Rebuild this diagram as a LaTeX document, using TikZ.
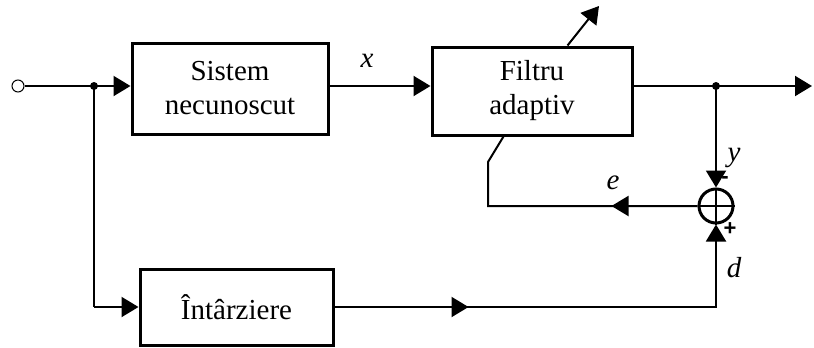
\documentclass[tikz,border=0pt]{standalone}
\usepackage{fontspec}
\setmainfont{Liberation Serif}
\setsansfont{Liberation Sans}
\usetikzlibrary{arrows.meta,decorations.markings,calc}

\begin{document}
\begin{tikzpicture}[x=1pt,y=-1pt,
  blk/.style={draw,line width=3pt,align=center,inner sep=0pt,
    font=\fontsize{29}{34}\selectfont},
  wire/.style={line width=2pt},
  tip/.style={-{Triangle[length=17pt,width=20pt]}},
  midtip/.style={postaction={decorate},decoration={markings,
    mark=at position #1 with {\arrow{Triangle[length=17pt,width=20pt]}}}},
  lbl/.style={inner sep=0pt,font=\fontsize{29}{34}\selectfont\itshape},
  sgn/.style={inner sep=0pt,font=\fontsize{22}{24}\sffamily\bfseries},
  jdot/.style={circle,fill,inner sep=0pt,minimum size=8pt}]
\useasboundingbox (0,0) rectangle (814,348);

% blocks
\node[blk,minimum width=196pt,minimum height=91pt] (sys) at (230,88.5) {Sistem\\necunoscut};
\node[blk,minimum width=200pt,minimum height=88pt] (flt) at (532,91) {Filtru\\adaptiv};
\node[blk,minimum width=193pt,minimum height=76pt] (dly) at (236.5,307) {Întârziere};

% summing junction
\node[circle,draw,line width=3pt,minimum size=34pt,inner sep=0pt] (sum) at (716,206) {};
\draw[line width=2.5pt] (sum.north) -- (sum.south) (sum.west) -- (sum.east);

% input terminal and branch points
\node[circle,draw,line width=1pt,minimum size=12pt,inner sep=0pt] (in) at (18,86) {};
\coordinate (j1) at (94,86);
\coordinate (j2) at (716,86);
\coordinate (out) at (812,86);
\node[jdot] at (j1) {};
\node[jdot] at (j2) {};

% forward path
\draw[wire] (in) -- (j1);
\draw[wire,tip] (j1) -- (j1 -| sys.west);
\draw[wire,tip] (sys.east |- j1) -- (flt.west |- j1);
\draw[wire,tip] (flt.east |- j2) -- (out);
\draw[wire,tip] (j2) -- (sum.north);

% delayed reference path
\coordinate (c1) at (94,307);
\coordinate (c2) at (716,307);
\draw[wire] (j1) -- (c1);
\draw[wire,tip] (c1) -- (dly.west |- c1);
\draw[wire,tip,midtip=134pt] (dly.east |- c2) -- (c2) -- (sum.south);

% error feedback to the adaptive filter
\coordinate (f1) at (488,206);
\coordinate (f2) at (488,162);
\draw[wire,midtip=86pt] (sum.west) -- (f1) -- (f2) -- ($(flt.south west)+(73,0)$);

% adaptation arrow
\coordinate (adj) at (599,6);
\draw[wire,tip] ($(flt.north west)+(137,0)$) -- (adj);

% labels
\node[lbl] (lx) at (367,61) {x};
\node[lbl] (ly) at (734,158) {y};
\node[lbl] (le) at (613,183) {e};
\node[lbl] (ld) at (734,268) {d};
\node[sgn] (lm) at (725,180) {-};
\node[sgn] (lp) at (730,229) {+};
\end{tikzpicture}
\end{document}
